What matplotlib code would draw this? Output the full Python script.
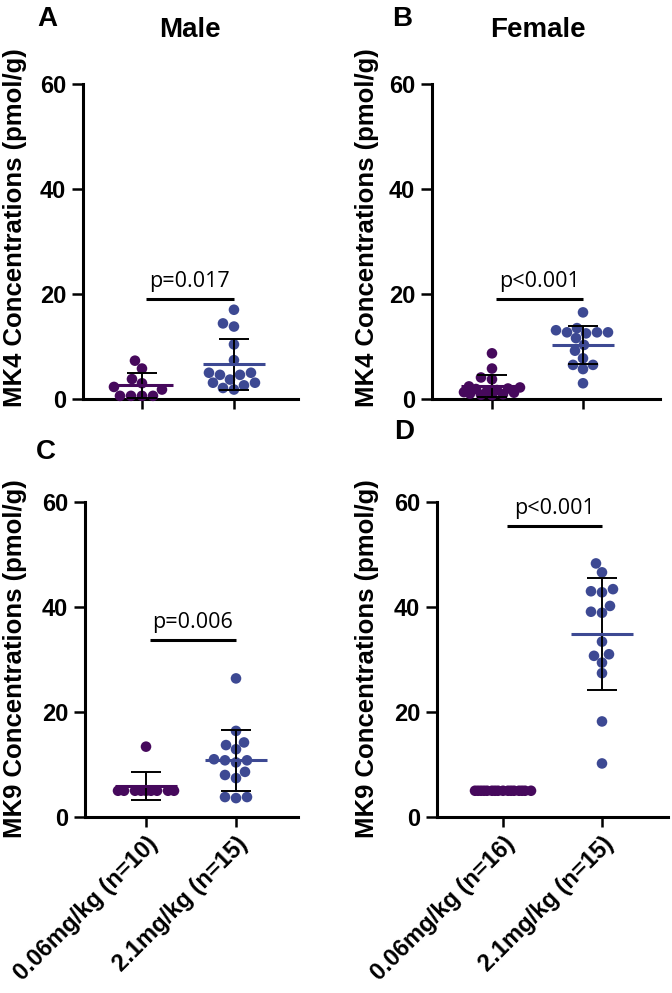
import matplotlib
matplotlib.use("Agg")
import matplotlib.pyplot as plt
import numpy as np

# ---------------- data ----------------
groups_male = ["0.06mg/kg (n=10)", "2.1mg/kg (n=15)"]
groups_female = ["0.06mg/kg (n=16)", "2.1mg/kg (n=15)"]

mk4_male_low = [7.3, 5.8, 3.8, 3.0, 2.3, 1.8, 0.6, 0.6, 0.6, 0.6]
mk4_male_high = [17.0, 14.4, 13.8, 10.4, 7.4, 5.0, 4.6, 5.0, 4.6, 3.7, 3.1, 2.6, 3.1, 2.1, 1.8]
mk4_female_low = [8.7, 5.8, 4.1, 3.75, 2.4, 2.2, 2.0, 1.9, 1.7, 1.5, 1.3, 1.2, 1.0, 0.9, 0.8, 0.75]
mk4_female_high = [16.5, 13.5, 13.1, 12.7, 12.7, 12.7, 12.5, 11.6, 10.3, 9.2, 7.75, 6.5, 6.5, 5.7, 3.0]
mk9_male_low = [13.4, 5.0, 5.0, 5.0, 5.0, 5.0, 5.0, 5.0, 5.0, 5.0]
mk9_male_high = [26.4, 16.4, 14.2, 13.7, 12.9, 11.0, 10.8, 10.8, 10.4, 8.6, 8.0, 7.4, 3.8, 3.8, 3.6]
mk9_female_low = [5.0] * 16
mk9_female_high = [48.3, 46.6, 43.4, 43.0, 42.8, 40.2, 39.1, 38.9, 33.4, 31.0, 30.7, 29.4, 27.4, 18.2, 10.2]

p_labels = ["p=0.017", "p<0.001", "p=0.006", "p<0.001"]
p_heights = [19.0, 19.0, 33.7, 55.5]

panel_letters = ["A", "B", "C", "D"]
col_titles = ["Male", "Female"]
y_labels = ["MK4 Concentrations (pmol/g)", "MK9 Concentrations (pmol/g)"]
y_ticks = [0, 20, 40, 60]

purple = "#46095c"
blue = "#3d4993"

W, H = 672, 993
fig = plt.figure(figsize=(W / 100, H / 100), dpi=100)

BOLD = ["Liberation Sans", "DejaVu Sans"]


def rect(l, r, t, b):
    return [l / W, 1 - b / H, (r - l) / W, (b - t) / H]


# layout in pixels: (left, right, top(60), bottom(0)), xlim
specs = [
    (rect(83, 298, 84, 399), (-0.641, 1.696)),
    (rect(432, 660, 84, 399), (-0.659, 1.846)),
    (rect(85, 298, 502, 817), (-0.678, 1.689)),
    (rect(437, 668, 502, 817), (-0.667, 1.667)),
]

datasets = [
    (mk4_male_low, mk4_male_high),
    (mk4_female_low, mk4_female_high),
    (mk9_male_low, mk9_male_high),
    (mk9_female_low, mk9_female_high),
]


def beeswarm(ax, x0, vals, d_px=10.5, max_half=28):
    vals = np.asarray(vals, float)
    ys = ax.transData.transform(np.column_stack([np.full(len(vals), x0), vals]))[:, 1]
    ppx = ax.transData.transform((1, 0))[0] - ax.transData.transform((0, 0))[0]
    cands = np.arange(-max_half, max_half + 0.5, 1.0)
    cands = sorted(cands, key=lambda c: (abs(c), c))
    placed = []
    offs = np.zeros(len(vals))
    for i in np.argsort(ys, kind="stable"):
        best = None
        for c in cands:
            if all((c - px) ** 2 + (ys[i] - py) ** 2 >= d_px ** 2 for px, py in placed):
                best = c
                break
        if best is None:
            scores = [min(np.hypot(c - px, ys[i] - py) for px, py in placed) for c in cands]
            best = cands[int(np.argmax(scores))]
        placed.append((best, ys[i]))
        offs[i] = best
    return x0 + offs / ppx


for k, ((pos, xlim), (low, high)) in enumerate(zip(specs, datasets)):
    ax = fig.add_axes(pos)
    ax.set_xlim(*xlim)
    ax.set_ylim(0, 60)
    for s in ["top", "right"]:
        ax.spines[s].set_visible(False)
    ax.spines["left"].set_linewidth(2.2)
    ax.spines["bottom"].set_linewidth(2.2)
    ax.spines["left"].set_bounds(0, 60)
    ax.set_yticks(y_ticks)
    ax.set_xticks([0, 1])
    ax.tick_params(axis="y", length=8, width=1.8, pad=4, labelsize=17)
    ax.tick_params(axis="x", length=7, width=1.8, pad=4, labelsize=17)
    for lab in ax.get_yticklabels():
        lab.set_fontfamily(BOLD)
        lab.set_fontweight("bold")
    if k >= 2:
        names = groups_male if k == 2 else groups_female
        ax.set_xticklabels(names, rotation=45, ha="right", rotation_mode="anchor",
                           fontfamily=BOLD, fontweight="bold")
    else:
        ax.set_xticklabels([])

    ppx = ax.transData.transform((1, 0))[0] - ax.transData.transform((0, 0))[0]
    for gi, (vals, col) in enumerate([(low, purple), (high, blue)]):
        xs = beeswarm(ax, gi, vals)
        ax.scatter(xs, vals, s=58, color=col, edgecolors="none", zorder=3, clip_on=False)
        m = np.mean(vals)
        sd = np.std(vals, ddof=1)
        mh = 31 / ppx
        ch = 15 / ppx
        ax.vlines(gi, m - sd, m + sd, color="black", lw=1.4, zorder=4)
        ax.hlines([m - sd, m + sd], gi - ch, gi + ch, color="black", lw=1.4, zorder=4)
        ax.hlines(m, gi - mh, gi + mh, color=col, lw=2.2, zorder=5)

    # significance bracket
    h = p_heights[k]
    ax.plot([0.04, 1.0], [h, h], color="black", lw=2.2, solid_capstyle="butt", clip_on=False)
    ax.annotate(p_labels[k], xy=(0.52, h), xytext=(0, 5), textcoords="offset points",
                ha="center", va="bottom", fontsize=15.5, fontfamily=["Open Sans", "DejaVu Sans"])

# panel letters, titles, y labels
fig.text(47 / W, 1 - 19 / H, "A", fontsize=20, fontweight="bold", fontfamily=BOLD, ha="center", va="center")
fig.text(402 / W, 1 - 19 / H, "B", fontsize=20, fontweight="bold", fontfamily=BOLD, ha="center", va="center")
fig.text(46 / W, 1 - 452 / H, "C", fontsize=20, fontweight="bold", fontfamily=BOLD, ha="center", va="center")
fig.text(404 / W, 1 - 432 / H, "D", fontsize=20, fontweight="bold", fontfamily=BOLD, ha="center", va="center")
fig.text(190 / W, 1 - 30 / H, col_titles[0], fontsize=20, fontweight="bold", fontfamily=BOLD, ha="center", va="center")
fig.text(538 / W, 1 - 30 / H, col_titles[1], fontsize=20, fontweight="bold", fontfamily=BOLD, ha="center", va="center")

for (xc, yc, t) in [(15, 228, y_labels[0]), (367, 228, y_labels[0]),
                    (15, 659, y_labels[1]), (367, 659, y_labels[1])]:
    fig.text(xc / W, 1 - yc / H, t, rotation=90, fontsize=18.5, fontweight="bold",
             fontfamily=BOLD, ha="center", va="center")

fig.savefig("out.png", dpi=100)
